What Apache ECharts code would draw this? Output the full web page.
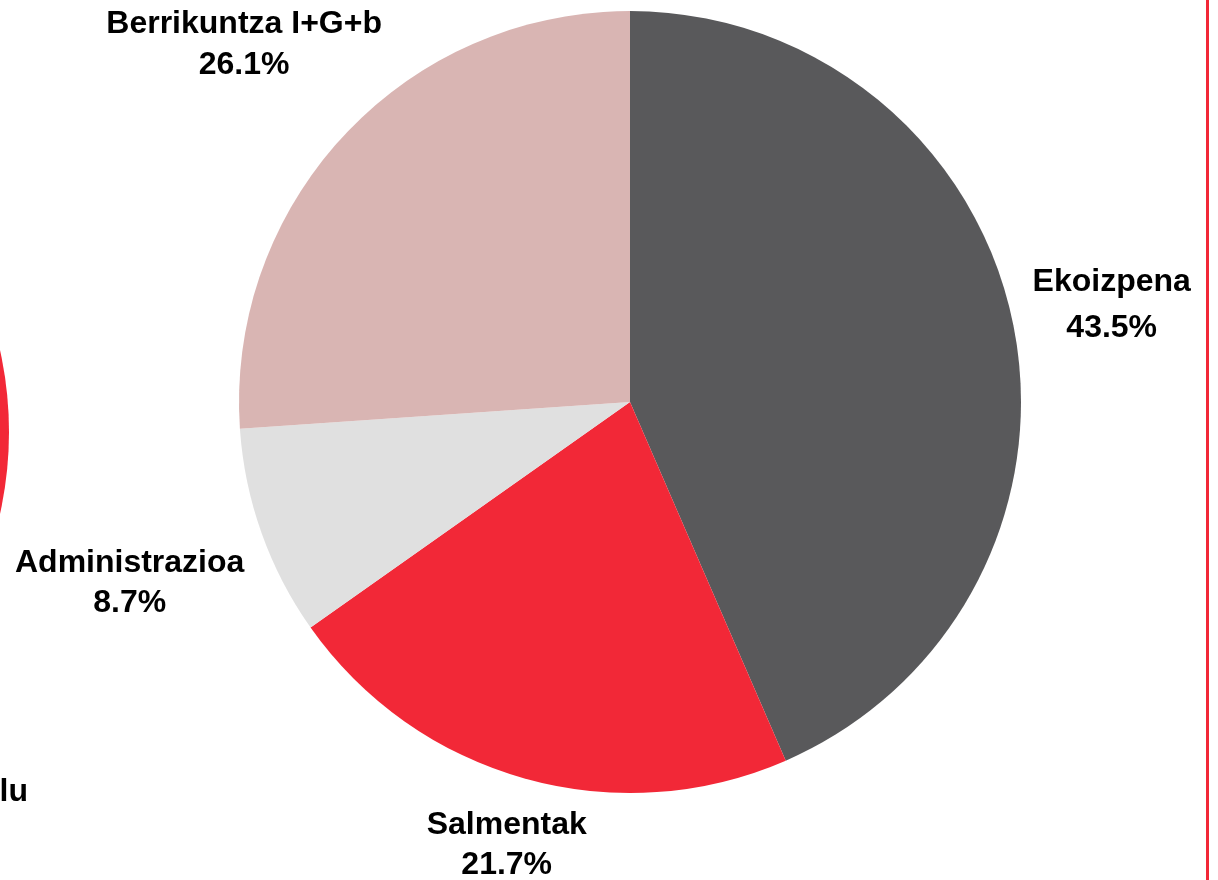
<!DOCTYPE html>
<html>
<head>
    <meta charset="utf-8">
    <title>Pie</title>
    <script src="https://cdn.jsdelivr.net/npm/echarts@6/dist/echarts.min.js"></script>
    <style>
        html, body {margin: 0; padding: 0; background: #fff;}
        #main {width: 1218px; height: 880px;}
    </style>
</head>
<body>
<div id="main"></div>
<script type="text/javascript">
    // data
    var categories = ['Ekoizpena', 'Salmentak', 'Administrazioa', 'Berrikuntza I+G+b'];
    var values = [10, 5, 2, 6];
    var colors = ['#59595b', '#f22837', '#e0e0e0', '#d9b5b3'];

    // layout
    var cx = 630, cy = 402, R = 391;
    var labelDist = [492, 457, 531, 528];
    var labelLineH = [46, 40, 40, 41];

    var total = values.reduce(function (a, b) { return a + b; }, 0);
    var midAngle = [];
    var acc = 0;
    for (var i = 0; i < values.length; i++) {
        midAngle.push((acc + values[i] / 2) / total * 2 * Math.PI);
        acc += values[i];
    }

    var myChart = echarts.init(document.getElementById('main'));

    var font = "'Liberation Sans', Arial, sans-serif";

    myChart.setOption({
        animation: false,
        graphic: [
            {
                type: 'circle',
                shape: {cx: -369, cy: 432, r: 378},
                style: {fill: '#f22837'}
            },
            {
                type: 'rect',
                shape: {x: 1206, y: 0, width: 3, height: 880},
                style: {fill: '#f22837'}
            },
            {
                type: 'text',
                x: 28, y: 792,
                style: {
                    text: 'lu', fill: '#000', font: 'bold 32px ' + font,
                    textAlign: 'right', textVerticalAlign: 'middle'
                }
            }
        ],
        series: [
            {
                type: 'pie',
                center: [cx, cy],
                radius: [0, R],
                startAngle: 90,
                clockwise: true,
                avoidLabelOverlap: false,
                percentPrecision: 1,
                itemStyle: {borderWidth: 0},
                label: {
                    show: true,
                    position: 'outside',
                    formatter: '{b}\n{d}%',
                    color: '#000',
                    fontFamily: font,
                    fontWeight: 'bold',
                    fontSize: 32,
                    lineHeight: 40,
                    align: 'center'
                },
                labelLine: {show: false},
                emphasis: {disabled: true},
                labelLayout: function (params) {
                    var k = params.dataIndex;
                    var a = midAngle[k];
                    return {
                        x: cx + labelDist[k] * Math.sin(a),
                        y: cy - labelDist[k] * Math.cos(a) + 3,
                        align: 'center',
                        verticalAlign: 'middle'
                    };
                },
                data: categories.map(function (c, i) {
                    return {
                        name: c,
                        value: values[i],
                        itemStyle: {color: colors[i]},
                        label: {lineHeight: labelLineH[i]}
                    };
                })
            }
        ]
    });
</script>
</body>
</html>
